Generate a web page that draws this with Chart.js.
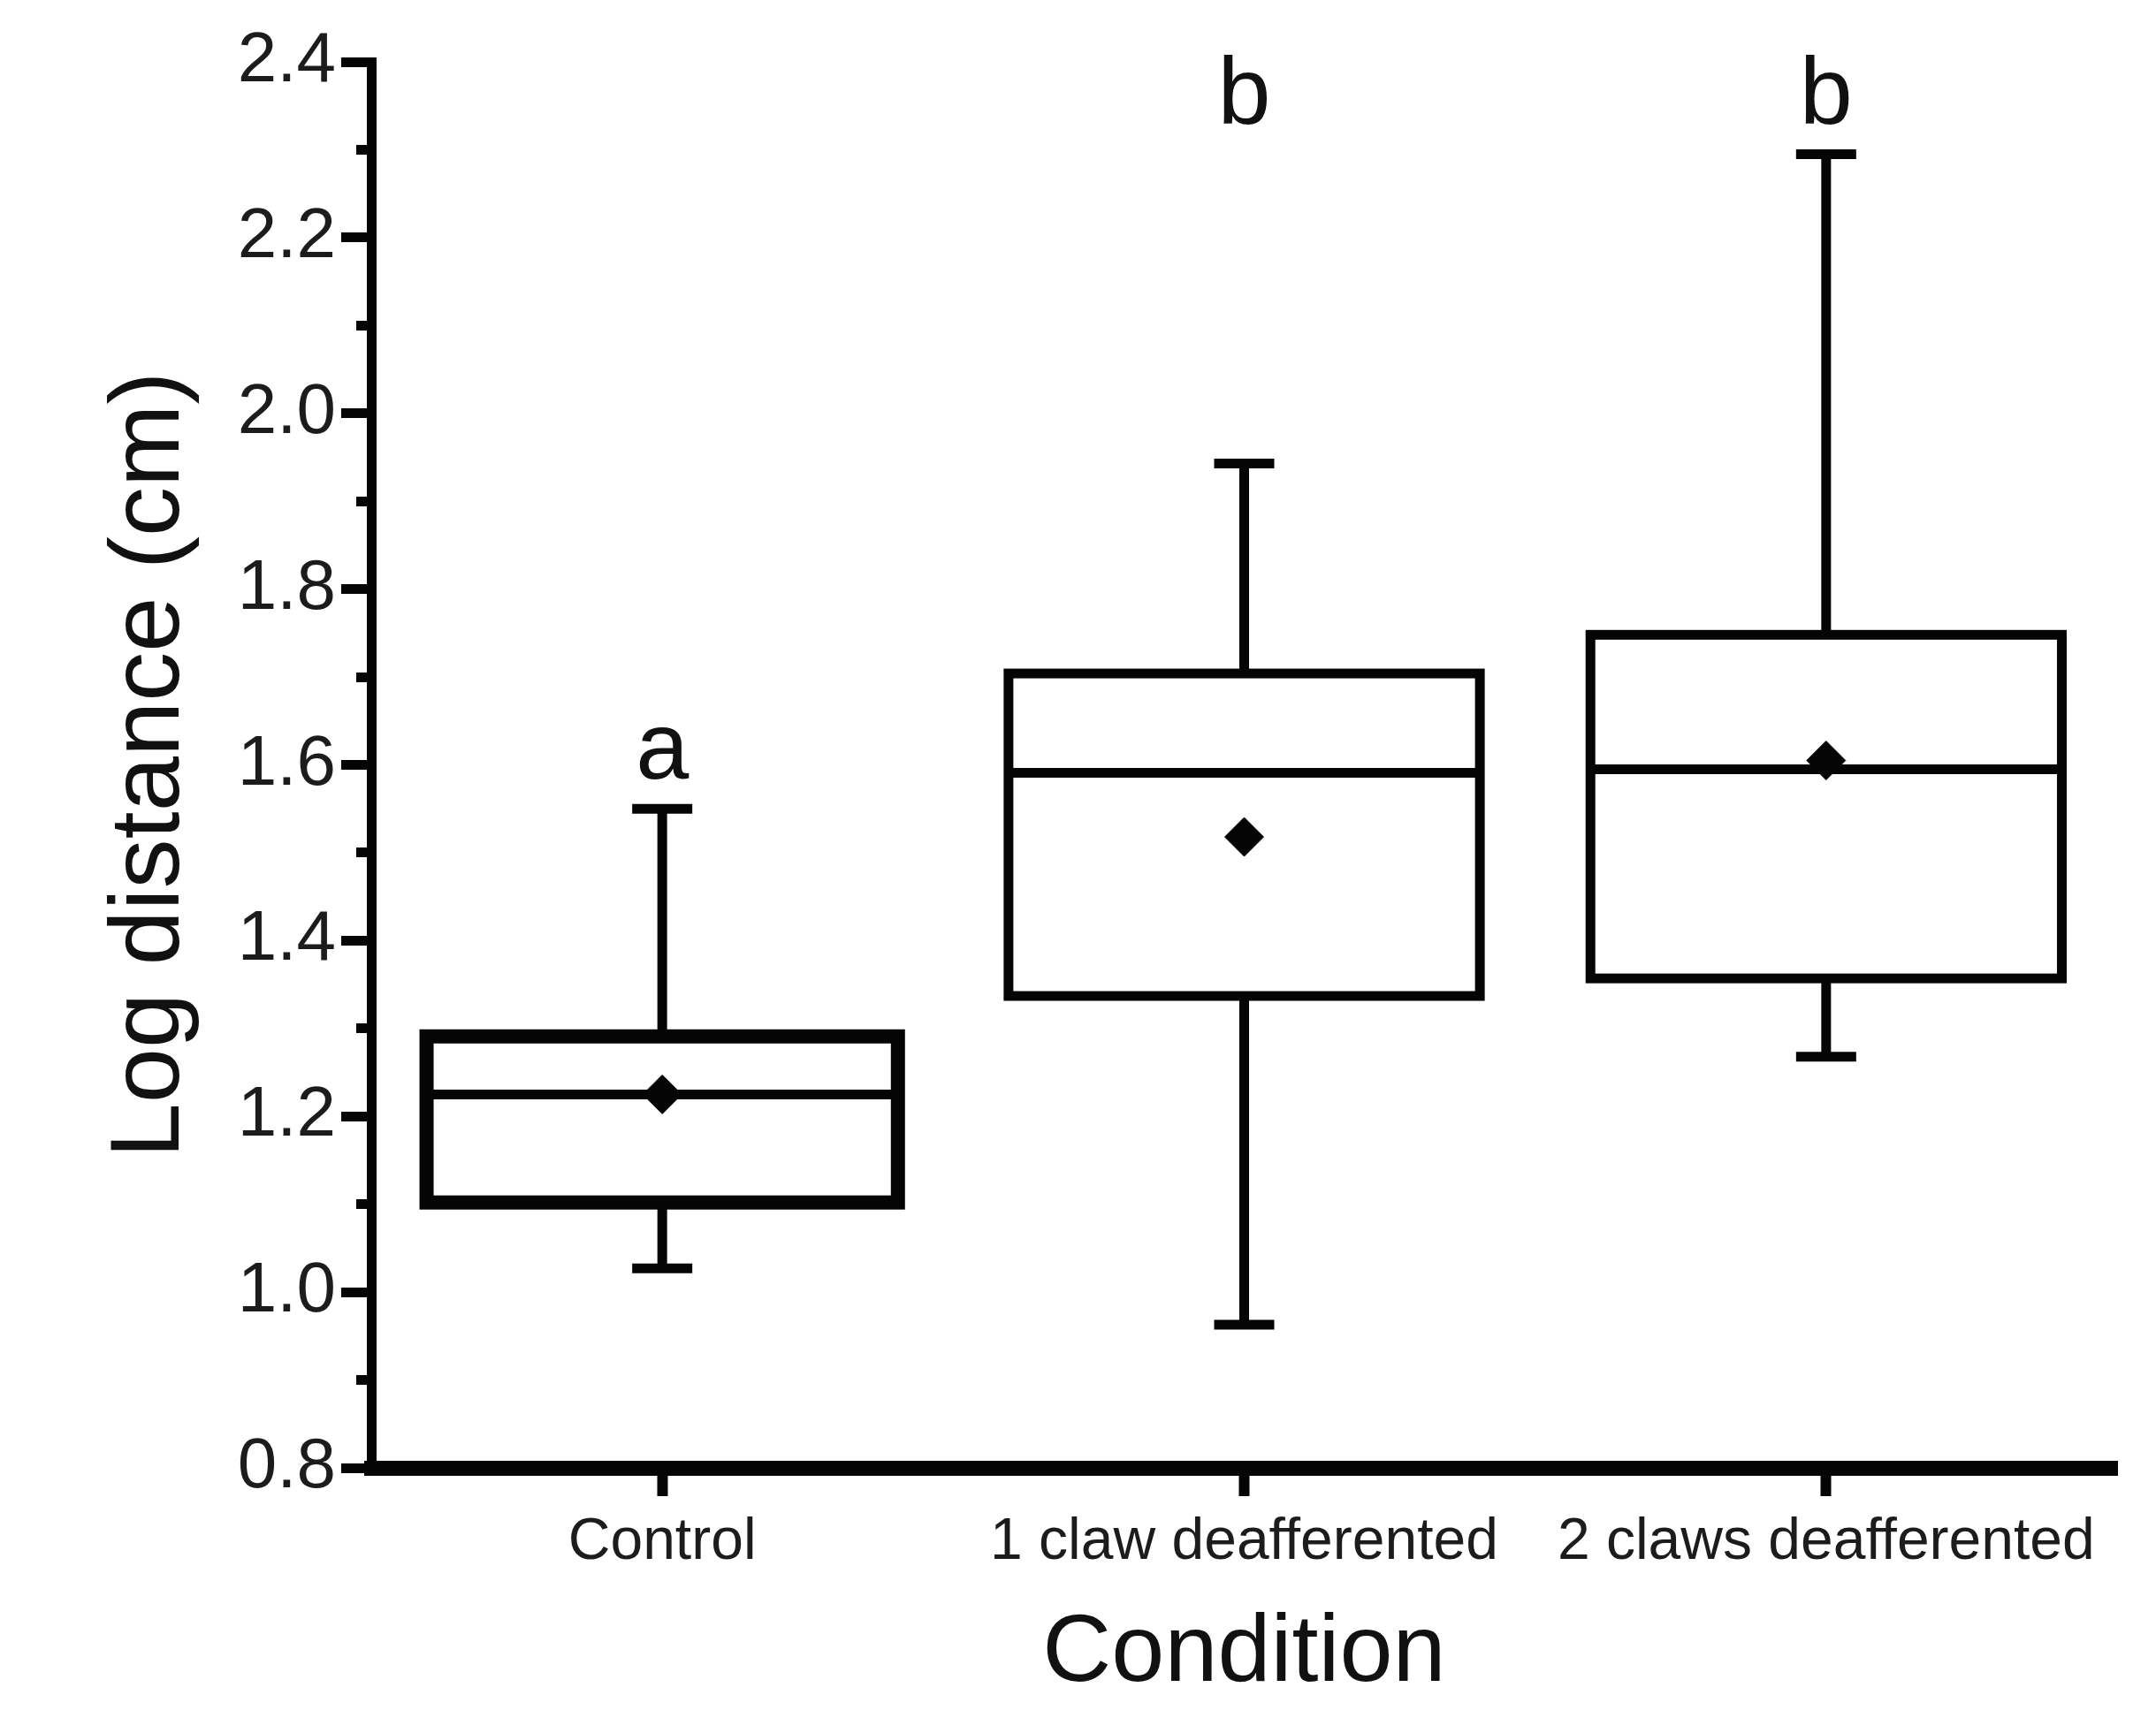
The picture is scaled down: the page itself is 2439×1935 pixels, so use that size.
<!DOCTYPE html>
<html lang="en">
<head>
  <meta charset="UTF-8" />
  <title>Log distance by condition</title>
  <script src="https://cdn.jsdelivr.net/npm/chart.js@4/dist/chart.umd.min.js"></script>
  <style>
    body {
      margin: 0;
      padding: 0;
      background: #fff;
    }

    /* fixed size to match the window */
    .chart-container {
      width: 2439px;
      height: 1935px;
      position: relative;
    }
  </style>
</head>
<body>
  <div class="chart-container">
    <canvas id="boxChart"></canvas>
  </div>

  <script>
    // Data
    const conditions = ['Control', '1 claw deafferented', '2 claws deafferented'];
    const whiskerMin = [1.027, 0.963, 1.268];
    const q1 = [1.102, 1.337, 1.357];
    const median = [1.225, 1.591, 1.595];
    const q3 = [1.291, 1.704, 1.748];
    const whiskerMax = [1.55, 1.943, 2.295];
    const means = [1.225, 1.518, 1.605];
    const groupLetters = ['a', 'b', 'b'];

    const yMin = 0.8;
    const yMax = 2.4;
    const yStep = 0.1;

    const ink = '#050505';
    const fontFamily = '"Liberation Sans", Arial, sans-serif';
    const boxLineWidths = [16, 11, 11];

    // Box outlines, whiskers, caps, medians and significance letters
    const boxExtras = {
      id: 'boxExtras',
      afterDatasetsDraw(chart) {
        const { ctx } = chart;
        const x = chart.scales.x;
        const y = chart.scales.y;
        const bars = chart.getDatasetMeta(0).data;

        const line = (x1, y1, x2, y2) => {
          ctx.beginPath();
          ctx.moveTo(x1, y1);
          ctx.lineTo(x2, y2);
          ctx.stroke();
        };

        ctx.save();
        ctx.strokeStyle = ink;
        ctx.fillStyle = ink;
        ctx.lineCap = 'butt';

        conditions.forEach((c, i) => {
          const cx = x.getPixelForValue(i);
          const pMax = y.getPixelForValue(whiskerMax[i]);
          const pMin = y.getPixelForValue(whiskerMin[i]);
          const pQ1 = y.getPixelForValue(q1[i]);
          const pQ3 = y.getPixelForValue(q3[i]);
          const bar = bars[i];
          const left = bar.x - bar.width / 2;
          const right = bar.x + bar.width / 2;

          ctx.lineWidth = 11;
          // whiskers
          line(cx, pQ3, cx, pMax);
          line(cx, pQ1, cx, pMin);

          // caps
          line(cx - 34, pMax, cx + 34, pMax);
          line(cx - 34, pMin, cx + 34, pMin);

          // median across the box
          const pMed = y.getPixelForValue(median[i]);
          line(left, pMed, right, pMed);

          // box outline centred on the quartiles
          ctx.lineWidth = boxLineWidths[i];
          ctx.lineJoin = 'miter';
          ctx.strokeRect(left, pQ3, right - left, pQ1 - pQ3);

          // letter sits above the tallest whisker of its group
          let top = whiskerMax[i];
          groupLetters.forEach((g, j) => {
            if (g === groupLetters[i]) top = Math.max(top, whiskerMax[j]);
          });
          ctx.font = '108px ' + fontFamily;
          ctx.textAlign = 'center';
          ctx.textBaseline = 'alphabetic';
          ctx.fillStyle = '#111';
          ctx.fillText(groupLetters[i], cx, y.getPixelForValue(top) - 34);
          ctx.fillStyle = ink;
        });

        ctx.restore();
      }
    };

    const ctx = document.getElementById('boxChart').getContext('2d');
    const boxChart = new Chart(ctx, {
      type: 'bar',
      data: {
        labels: conditions,
        datasets: [
          {
            // interquartile boxes (outline stroked by the plugin)
            label: 'IQR',
            data: conditions.map((c, i) => [q1[i], q3[i]]),
            backgroundColor: 'rgba(0,0,0,0)',
            borderWidth: 0,
            categoryPercentage: 1,
            barPercentage: 0.81,
            order: 2
          },
          {
            // means as diamonds
            type: 'line',
            label: 'Mean',
            data: means,
            showLine: false,
            pointStyle: 'rectRot',
            pointRadius: 22,
            pointBackgroundColor: ink,
            pointBorderColor: ink,
            pointBorderWidth: 1,
            order: 1
          }
        ]
      },
      options: {
        responsive: true,
        maintainAspectRatio: false,
        animation: false,
        layout: {
          padding: { top: 70, right: 44, bottom: 0, left: 0 }
        },
        plugins: {
          legend: { display: false },
          tooltip: { enabled: false }
        },
        scales: {
          x: {
            type: 'category',
            offset: true,
            border: { display: true, color: ink, width: 17 },
            grid: {
              offset: false,
              drawOnChartArea: false,
              drawTicks: true,
              tickLength: 32,
              tickWidth: 12,
              tickColor: ink
            },
            ticks: {
              autoSkip: false,
              maxRotation: 0,
              padding: 13,
              color: '#1c1c1c',
              font: { family: fontFamily, size: 66 }
            },
            title: {
              display: true,
              text: 'Condition',
              color: '#111',
              font: { family: fontFamily, size: 108, lineHeight: 1 },
              padding: { top: 0, bottom: 9 }
            },
            afterFit: (scale) => { scale.height = 274; }
          },
          y: {
            type: 'linear',
            min: yMin,
            max: yMax,
            border: { display: true, color: ink, width: 11 },
            grid: {
              drawOnChartArea: false,
              drawTicks: true,
              tickLength: 34,
              tickWidth: 11,
              tickColor: ink,
              // minor ticks only reach part of the way out
              tickBorderDash: (c) => (c.index % 2 === 1 ? [0, 17, 100] : [])
            },
            ticks: {
              stepSize: yStep,
              autoSkip: false,
              padding: 6,
              color: '#1c1c1c',
              font: { family: fontFamily, size: 80 },
              callback: (v, i) => (i % 2 === 0 ? Number(v).toFixed(1) : '')
            },
            title: {
              display: true,
              text: 'Log distance (cm)',
              color: '#111',
              font: { family: fontFamily, size: 112, lineHeight: 1 },
              padding: { top: 115, bottom: 0 }
            },
            afterFit: (scale) => { scale.width = 420; }
          }
        }
      },
      plugins: [boxExtras]
    });
  </script>
</body>
</html>
